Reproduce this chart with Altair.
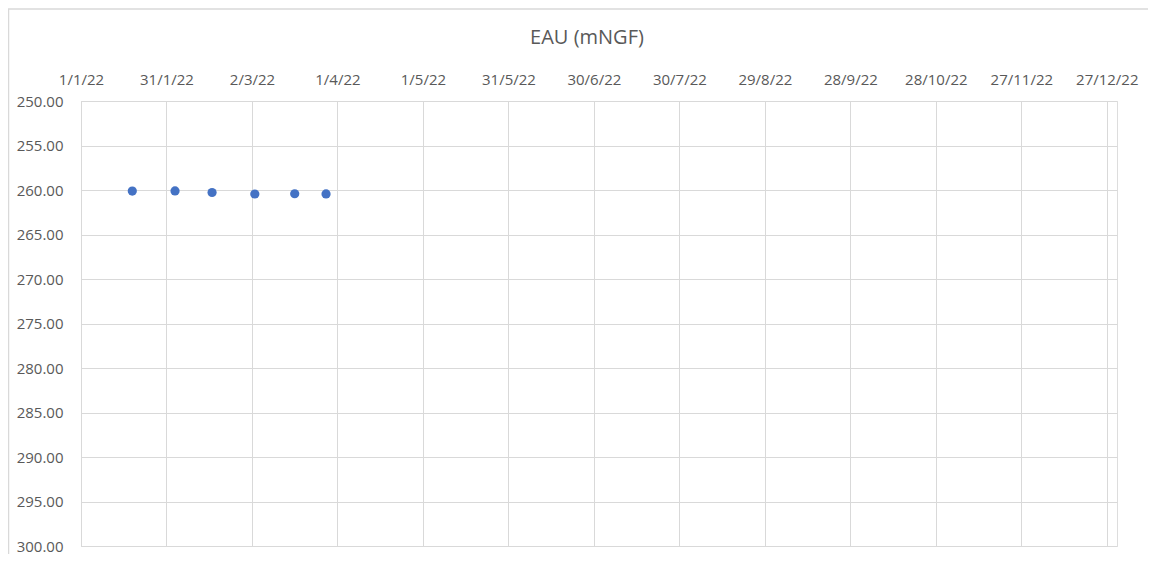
import altair as alt
import pandas as pd

# ---- data ----
dates = ["2022-01-19", "2022-02-03", "2022-02-16", "2022-03-03", "2022-03-17", "2022-03-28"]
levels = [260.12, 260.10, 260.28, 260.45, 260.42, 260.44]

x_tick_dates = ["2022-01-01", "2022-01-31", "2022-03-02", "2022-04-01", "2022-05-01",
                "2022-05-31", "2022-06-30", "2022-07-30", "2022-08-29", "2022-09-28",
                "2022-10-28", "2022-11-27", "2022-12-27"]
x_domain_dates = ["2022-01-01", "2022-12-30T14:00:00"]
y_ticks = [250, 255, 260, 265, 270, 275, 280, 285, 290, 295, 300]
y_domain = [250, 300]
title_text = "EAU (mNGF)"


def to_ms(s):
    return int(pd.Timestamp(s, tz="UTC").value // 10**6)


x_ticks_ms = [to_ms(d) for d in x_tick_dates]
x_domain_ms = [to_ms(d) for d in x_domain_dates]

df = pd.DataFrame({"date": dates, "level": levels})

FONT = "Open Sans"
TXT = "#595959"
GRID = "#d9d9d9"

points = alt.Chart(df).mark_circle(size=85, color="#4472C4", opacity=1).encode(
    x=alt.X(
        "date:T",
        scale=alt.Scale(type="utc", domain=x_domain_ms, nice=False),
        axis=alt.Axis(
            orient="top", values=x_ticks_ms, format="%-d/%-m/%y", title=None,
            grid=True, gridColor=GRID, gridWidth=1, domain=False, ticks=False,
            tickSize=0, labelPadding=14, labelFont=FONT, labelFontSize=15,
            labelColor=TXT, labelFlush=False, labelOverlap=False,
        ),
    ),
    y=alt.Y(
        "level:Q",
        scale=alt.Scale(domain=y_domain, reverse=True, nice=False, zero=False),
        axis=alt.Axis(
            values=y_ticks, format=".2f", title=None, grid=True, gridColor=GRID,
            gridWidth=1, domain=True, domainColor=GRID, domainWidth=1,
            ticks=False, tickSize=0, labelPadding=18, labelFont=FONT,
            labelFontSize=15, labelColor=TXT, labelFlush=False, labelOverlap=False,
        ),
    ),
)

frame_data = alt.Data(values=[{}])
top_border = alt.Chart(frame_data).mark_rule(color=GRID, strokeWidth=1.5).encode(
    x=alt.value(-76), x2=alt.value(1100), y=alt.value(-92)
)
left_border = alt.Chart(frame_data).mark_rule(color=GRID, strokeWidth=1.5).encode(
    x=alt.value(-72.5), y=alt.value(-92), y2=alt.value(460)
)

chart = alt.layer(points, top_border, left_border).properties(
    width=1036,
    height=445,
    autosize=alt.AutoSizeParams(type="none"),
    padding={"left": 73, "top": 93, "right": 31, "bottom": 8},
    title=alt.TitleParams(
        title_text, font=FONT, fontSize=20, fontWeight="normal", color=TXT,
        anchor="middle", dx=-12, offset=-40,
    ),
).configure_view(stroke="transparent", strokeOpacity=0, strokeWidth=0).configure(background="white")

chart.save("out.html", embed_options={"renderer": "svg", "actions": False})
